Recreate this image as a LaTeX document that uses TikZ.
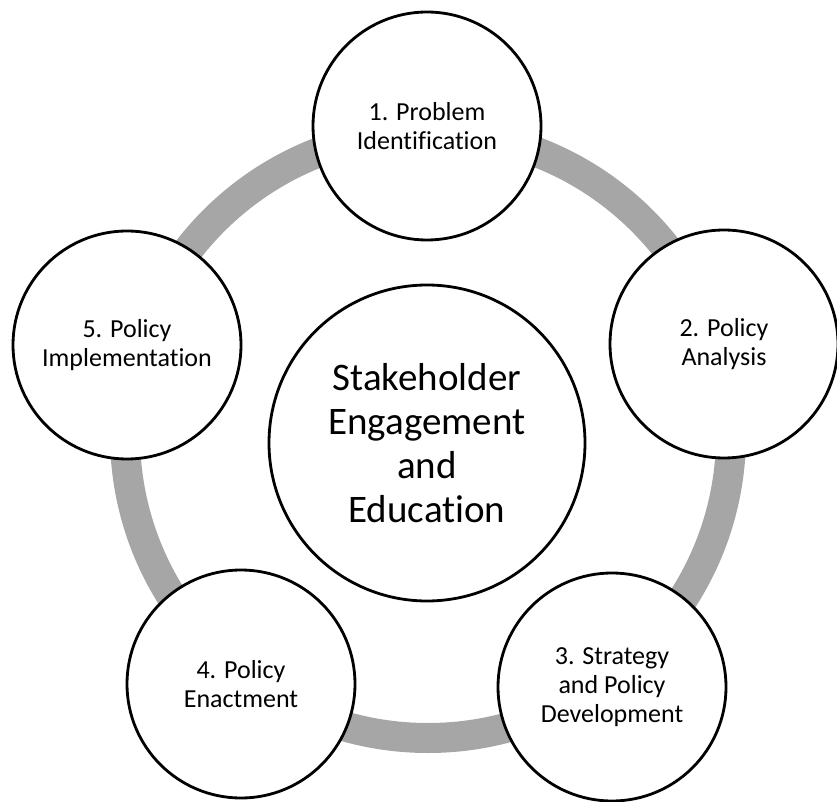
\documentclass[tikz,border=0pt]{standalone}
\usepackage{fontspec}
\setmainfont[Ligatures=NoCommon]{Carlito}
\definecolor{ringgray}{RGB}{166,166,166}
\tikzstyle{stage}=[circle,draw,fill=white,line width=2.8pt,minimum size=228pt,inner sep=0pt,align=center,font=\fontsize{26}{29}\selectfont]
\tikzstyle{hub}=[stage,minimum size=316pt,font=\fontsize{39}{44}\selectfont]
\tikzstyle{ring}=[draw=ringgray,line width=30pt]

\begin{document}
\begin{tikzpicture}[x=1pt,y=1pt]
\useasboundingbox (0,0) rectangle (837,801);
\coordinate (mid) at (428,366);
\draw[ring] (mid) circle (303pt);

\node[hub] (hub) at (427, 358) {Stakeholder\\Engagement\\and\\Education};

\node[stage] (s1) at (427, 675) {1. Problem\\Identification};
\node[stage] (s2) at (724, 457) {2. Policy\\Analysis};
\node[stage] (s3) at (612, 114) {3. Strategy\\and Policy\\Development};
\node[stage] (s4) at (241, 117) {4. Policy\\Enactment};
\node[stage] (s5) at (127, 456) {5. Policy\\Implementation};

\end{tikzpicture}
\end{document}
